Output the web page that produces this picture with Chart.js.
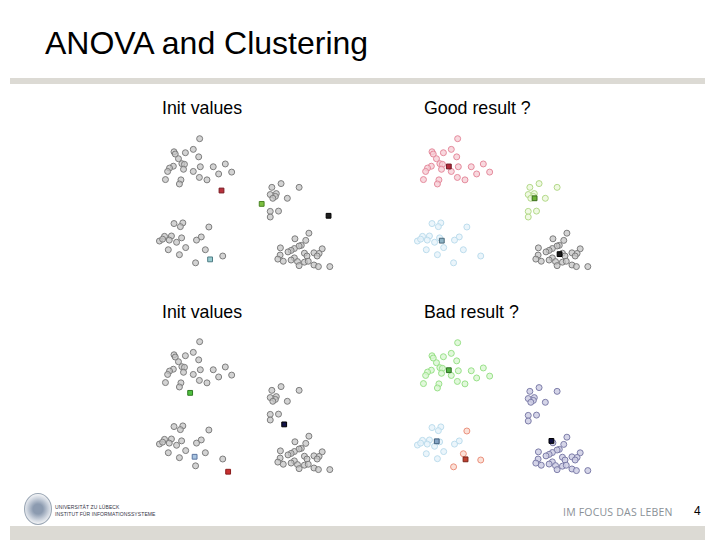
<!DOCTYPE html>
<html>
<head>
<meta charset="utf-8">
<script src="https://cdn.jsdelivr.net/npm/chart.js@4"></script>
<style>
  body { margin: 0; background: #fff; }
  #slide { position: relative; width: 720px; height: 540px; overflow: hidden; font-family: "Liberation Sans", Arial, sans-serif; }
  .abs { position: absolute; }
  .title { left: 45px; top: 25px; font-size: 32px; color: #000; white-space: nowrap; }
  .bar { background: #dcdad4; }
  .label { font-size: 17.8px; color: #000; white-space: nowrap; }
  canvas.panel { position: absolute; }
  .uni { left: 55px; top: 504px; font-size: 5px; color: #334; line-height: 6.5px; letter-spacing: 0.1px; white-space: nowrap; }
  .motto { left: 563px; top: 505px; font-family: "Open Sans", sans-serif; font-size: 10.5px; color: #8a9096; letter-spacing: 0.2px; white-space: nowrap; }
  .page { left: 694px; top: 504px; font-size: 12px; color: #000; }
  .seal { left: 24px; top: 493px; width: 26px; height: 30px; border-radius: 50%; border: 1px solid #9aa6b4;
          background: radial-gradient(circle, #8c9bb0 0 25%, #cdd4de 55%, #f4f5f7 75%); }
</style>
</head>
<body>
<div id="slide">
  <div class="abs title">ANOVA and Clustering</div>
  <div class="abs bar" style="left:10px; top:78px; width:695px; height:6px;"></div>

  <div class="abs label" style="left:162px; top:98px;">Init values</div>
  <div class="abs label" style="left:424px; top:98px;">Good result ?</div>
  <div class="abs label" style="left:162px; top:302px;">Init values</div>
  <div class="abs label" style="left:424px; top:302px;">Bad result ?</div>

  <canvas class="panel" id="p1" width="200" height="155" style="left:150px; top:125px;"></canvas>
  <canvas class="panel" id="p2" width="200" height="155" style="left:408px; top:125px;"></canvas>
  <canvas class="panel" id="p3" width="200" height="155" style="left:150px; top:328px;"></canvas>
  <canvas class="panel" id="p4" width="200" height="155" style="left:408px; top:329px;"></canvas>

  <div class="abs seal"></div>
  <div class="abs uni">UNIVERSITÄT ZU LÜBECK<br>INSTITUT FÜR INFORMATIONSSYSTEME</div>
  <div class="abs motto">IM FOCUS DAS LEBEN</div>
  <div class="abs page">4</div>
  <div class="abs bar" style="left:10px; top:526px; width:695px; height:14px;"></div>
</div>

<script>
// the same sample points are used in all four panels (x, y in panel units)
const groupA = [[47,9.3],[20,23.3],[21.3,25.7],[32,24.3],[40.3,20.7],[24.7,30.7],[46,28.7],[28.3,36],
  [31,36.7],[19.3,38.7],[15.3,40.7],[13.3,44.3],[30,42],[40.3,44.3],[47.7,39.3],[61.3,39.3],[74,36.3],
  [80.7,45],[67,47],[46.7,50.7],[54.7,53.3],[27.3,53.3],[25.7,57.7],[11,53]];
const groupB = [[132.7,57.3],[123,61.3],[151.7,61.3],[121.3,69],[127.7,68],[126.7,71],[124,73],
  [139.3,73],[121.3,87],[130,86.7],[121.3,93]];
const groupC = [[29.3,99.3],[20,100],[26.7,103.3],[56.7,103.7],[10,113.7],[17.3,113.3],[28,115.3],
  [48.7,114.3],[43.7,117.7],[4.7,118.7],[8,116.7],[15,117.7],[22.7,120],[32.3,125.7],[14,128],[53,128],
  [25.7,133.3],[71.3,134.7],[42.7,142]];
const groupD = [[162,110.3],[147.3,116.3],[158.7,118],[154,123.3],[151.7,124],[132,126],[146.7,126.7],
  [143.3,128.7],[140,130.3],[176,127],[157.3,131.7],[167.3,131.3],[172.7,132],[131.7,133.7],[160,134.7],
  [170.7,134.7],[146.7,136.7],[129.3,138],[135,140.3],[143.3,139],[150,140.7],[157.3,141.3],[161.3,140.3],
  [151.7,145],[167.3,144.3],[172,146],[184,146]];

// points of groupC that end up in the red cluster of the bad result
const badRedInC = [3, 15, 17, 18];

// cluster centres: red, green, dark, blue
const centersInit1 = [[70,64.7],[112.3,79],[182.7,91.7],[58,138.3]];
const centersGood  = [[37.7,39],[128,73],[154.3,132.7],[30.3,118.3]];
const centersInit2 = [[77,148.3],[37,64],[136,97.7],[41.7,132.3]];
const centersBad   = [[55.3,134],[37.7,38.7],[145.7,114.3],[25,114.7]];

const xy = arr => arr.map(p => ({ x: p[0], y: p[1] }));

function pts(data, fill, border) {
  return { data: xy(data), pointStyle: 'circle', pointRadius: 3, borderWidth: 1,
           backgroundColor: fill, borderColor: border, order: 1, clip: false };
}
function centre(p, fill, border) {
  return { data: xy([p]), pointStyle: 'rect', pointRadius: 3.4, borderWidth: 1,
           backgroundColor: fill, borderColor: border, order: 0, clip: false };
}

const GRAY = ['rgba(196,196,196,0.75)', '#7c7c7c'];
const allPts = groupA.concat(groupB, groupC, groupD);

function panel(id, datasets) {
  new Chart(document.getElementById(id), {
    type: 'scatter',
    data: { datasets: datasets },
    options: {
      responsive: false,
      animation: false,
      layout: { padding: 0 },
      plugins: { legend: { display: false }, tooltip: { enabled: false } },
      scales: {
        x: { type: 'linear', min: 0, max: 200, display: false },
        y: { type: 'linear', min: 0, max: 155, reverse: true, display: false }
      }
    }
  });
}

panel('p1', [
  pts(allPts, GRAY[0], GRAY[1]),
  centre(centersInit1[0], '#b8303c', '#7a1c24'),
  centre(centersInit1[1], '#7cc040', '#4a8424'),
  centre(centersInit1[2], '#1e1e1e', '#000'),
  centre(centersInit1[3], '#98ccd0', '#4f7c84')
]);

panel('p2', [
  pts(groupA, 'rgba(246,206,214,0.8)', '#e48a9c'),
  pts(groupB, 'rgba(236,248,220,0.8)', '#b2d888'),
  pts(groupC, 'rgba(230,242,250,0.8)', '#bcdcec'),
  pts(groupD, GRAY[0], GRAY[1]),
  centre(centersGood[0], '#b02a3a', '#6e1420'),
  centre(centersGood[1], '#6cb436', '#3a6c1c'),
  centre(centersGood[2], '#1a1a1a', '#000'),
  centre(centersGood[3], '#8fb4c6', '#4a6a7c')
]);

panel('p3', [
  pts(allPts, GRAY[0], GRAY[1]),
  centre(centersInit2[0], '#c83030', '#8a1c1c'),
  centre(centersInit2[1], '#50c040', '#2e7a22'),
  centre(centersInit2[2], '#121248', '#000'),
  centre(centersInit2[3], '#a8c4e0', '#5a74a0')
]);

const redC = groupC.filter((p, i) => badRedInC.includes(i));
const blueC = groupC.filter((p, i) => !badRedInC.includes(i));
panel('p4', [
  pts(groupA, 'rgba(218,246,210,0.8)', '#98e088'),
  pts(groupB.concat(groupD), 'rgba(206,206,228,0.85)', '#7c7ca8'),
  pts(blueC, 'rgba(230,242,250,0.8)', '#bcdcec'),
  pts(redC, 'rgba(250,218,206,0.8)', '#ea907c'),
  centre(centersBad[0], '#c04030', '#7a2418'),
  centre(centersBad[1], '#50b040', '#2c6c20'),
  centre(centersBad[2], '#101040', '#000'),
  centre(centersBad[3], '#84a4c4', '#40607e')
]);
</script>
</body>
</html>
